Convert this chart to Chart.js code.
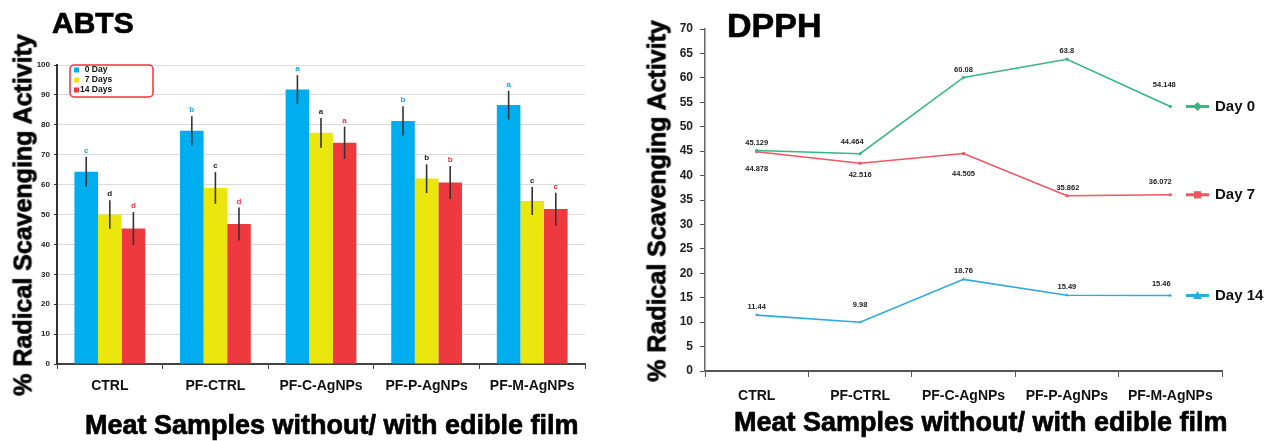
<!DOCTYPE html>
<html>
<head>
<meta charset="utf-8">
<script src="https://cdn.jsdelivr.net/npm/chart.js@4/dist/chart.umd.min.js"></script>
<style>
  body { margin: 0; background: #fff; width: 1276px; height: 441px; position: relative; overflow: hidden; font-family: "Liberation Sans", Arial, sans-serif; }
  .box { position: absolute; top: 0; height: 441px; }
  #abtsBox { left: 0; width: 620px; }
  #dpphBox { left: 640px; width: 636px; }
  .ttl { position: absolute; font-weight: bold; color: #000; white-space: nowrap; line-height: 1; -webkit-text-stroke: 0.7px #000; }
  .ytl { transform: translate(-50%, -50%) rotate(-90deg); }
</style>
</head>
<body>
<div class="box" id="abtsBox"><canvas id="abts"></canvas></div>
<div class="box" id="dpphBox"><canvas id="dpph"></canvas></div>

<div class="ttl" style="left:52px; top:8px; font-size:30px;">ABTS</div>
<div class="ttl" style="left:727px; top:8px; font-size:34px;">DPPH</div>
<div class="ttl ytl" style="left:23px; top:215px; font-size:25px;">% Radical Scavenging Activity</div>
<div class="ttl ytl" style="left:657px; top:201px; font-size:25px;">% Radical Scavenging Activity</div>
<div class="ttl" style="left:85px; top:412px; font-size:27px;">Meat Samples without/ with edible film</div>
<div class="ttl" style="left:734px; top:409px; font-size:27px;">Meat Samples without/ with edible film</div>

<script>
const samples = ['CTRL', 'PF-CTRL', 'PF-C-AgNPs', 'PF-P-AgNPs', 'PF-M-AgNPs'];

// ABTS (bars, mean +/- error)
const abtsDay0  = [64.3, 78.0, 91.8, 81.3, 86.6];
const abtsDay7  = [50.0, 58.9, 77.3, 62.0, 54.5];
const abtsDay14 = [45.3, 46.8, 74.0, 60.7, 51.8];
const abtsErr0  = [5.0, 4.9, 4.8, 4.9, 4.8];
const abtsErr7  = [4.8, 5.3, 5.0, 4.8, 4.7];
const abtsErr14 = [5.5, 5.5, 5.4, 5.5, 5.5];
const abtsLetters0  = ['c', 'b', 'a', 'b', 'a'];
const abtsLetters7  = ['d', 'c', 'a', 'b', 'c'];
const abtsLetters14 = ['d', 'd', 'a', 'b', 'c'];

// DPPH (lines)
const dpphDay0  = [45.129, 44.464, 60.08, 63.8, 54.148];
const dpphDay7  = [44.878, 42.516, 44.505, 35.862, 36.072];
const dpphDay14 = [11.44, 9.98, 18.76, 15.49, 15.46];
// where each value label sits relative to its point (dx, dy in px)
const labelShift0  = [[0, -8], [-8, -12], [0, -8], [0, -8], [-6, -22]];
const labelShift7  = [[0, 17], [0, 12], [0, 20], [1, -8], [-10, -13]];
const labelShift14 = [[0, -8], [0, -17], [0, -8], [0, -8], [-9, -12]];

const FONT = '"Liberation Sans", Arial, sans-serif';
Chart.defaults.font.family = FONT;
Chart.defaults.color = '#111';

const errorBars = {
  id: 'errorBars',
  afterDatasetsDraw(chart) {
    const ctx = chart.ctx, y = chart.scales.y;
    chart.data.datasets.forEach((ds, i) => {
      chart.getDatasetMeta(i).data.forEach((bar, j) => {
        const v = ds.data[j], e = ds.errors[j];
        const top = y.getPixelForValue(v + e), bot = y.getPixelForValue(v - e);
        ctx.save();
        ctx.strokeStyle = '#333';
        ctx.lineWidth = 1.6;
        ctx.beginPath();
        ctx.moveTo(bar.x, top);
        ctx.lineTo(bar.x, bot);
        ctx.stroke();
        ctx.fillStyle = ds.letterColor;
        ctx.font = 'bold 8px ' + FONT;
        ctx.textAlign = 'center';
        ctx.textBaseline = 'bottom';
        ctx.fillText(ds.letters[j], bar.x, top - 2);
        ctx.restore();
      });
    });
  }
};

const boxLegend = {
  id: 'boxLegend',
  afterDraw(chart) {
    const {ctx, chartArea} = chart;
    const x = chartArea.left + 13, y = chartArea.top;
    ctx.save();
    ctx.fillStyle = '#fff';
    ctx.strokeStyle = '#EE3340';
    ctx.lineWidth = 1.5;
    ctx.beginPath();
    ctx.roundRect(x, y, 83, 32, 4);
    ctx.fill();
    ctx.stroke();
    ctx.font = 'bold 8.5px ' + FONT;
    ctx.textBaseline = 'middle';
    chart.data.datasets.forEach((ds, i) => {
      const ly = y + 5 + i * 10;
      ctx.fillStyle = ds.backgroundColor;
      ctx.fillRect(x + 4, ly - 2.5, 5, 5);
      ctx.fillStyle = '#111';
      ctx.fillText(ds.legendText, x + 10, ly);
    });
    ctx.restore();
  }
};

new Chart(document.getElementById('abts'), {
  type: 'bar',
  data: {
    labels: samples,
    datasets: [
      { label: '0 Day', legendText: '  0 Day', data: abtsDay0, errors: abtsErr0, letters: abtsLetters0, letterColor: '#1AA7E0', backgroundColor: '#00AEEF' },
      { label: '7 Days', legendText: '  7 Days', data: abtsDay7, errors: abtsErr7, letters: abtsLetters7, letterColor: '#222', backgroundColor: '#EAE60E' },
      { label: '14 Days', legendText: '14 Days', data: abtsDay14, errors: abtsErr14, letters: abtsLetters14, letterColor: '#EE3340', backgroundColor: '#EE3A3F' }
    ]
  },
  options: {
    responsive: true,
    maintainAspectRatio: false,
    animation: false,
    categoryPercentage: 0.67,
    barPercentage: 1.0,
    layout: { padding: { top: 65, right: 35, left: 0, bottom: 0 } },
    plugins: { legend: { display: false }, tooltip: { enabled: false } },
    scales: {
      x: {
        afterFit: (s) => { s.height = 77; },
        grid: { display: true, drawOnChartArea: false, offset: true, tickLength: 5, tickColor: '#444' },
        border: { color: '#444', width: 2 },
        ticks: { font: { size: 14, weight: 'bold' }, color: '#111', padding: 9, maxRotation: 0, autoSkip: false }
      },
      y: {
        min: 0, max: 100,
        afterFit: (s) => { s.width = 57; },
        grid: { color: '#dcdcdc', lineWidth: 1, tickLength: 3, tickColor: '#333' },
        border: { color: '#333', width: 2 },
        ticks: { stepSize: 10, font: { size: 8, weight: 'bold' }, color: '#222', padding: 4 }
      }
    }
  },
  plugins: [errorBars, boxLegend]
});

function marker(ctx, style, x, y, r) {
  ctx.beginPath();
  if (style === 'rectRot') {
    ctx.moveTo(x, y - r); ctx.lineTo(x + r, y); ctx.lineTo(x, y + r); ctx.lineTo(x - r, y);
  } else if (style === 'triangle') {
    ctx.moveTo(x, y - r); ctx.lineTo(x + r, y + r * 0.8); ctx.lineTo(x - r, y + r * 0.8);
  } else {
    ctx.rect(x - r * 0.8, y - r * 0.8, r * 1.6, r * 1.6);
  }
  ctx.closePath();
  ctx.fill();
}

const valueLabels = {
  id: 'valueLabels',
  afterDatasetsDraw(chart) {
    const ctx = chart.ctx;
    ctx.save();
    ctx.font = 'bold 7.5px ' + FONT;
    ctx.fillStyle = '#222';
    ctx.textAlign = 'center';
    ctx.textBaseline = 'middle';
    chart.data.datasets.forEach((ds, i) => {
      chart.getDatasetMeta(i).data.forEach((pt, j) => {
        const [dx, dy] = ds.shift[j];
        ctx.fillText(String(ds.data[j]), pt.x + dx, pt.y + dy);
      });
    });
    ctx.restore();
  }
};

const sideLegend = {
  id: 'sideLegend',
  afterDraw(chart) {
    const {ctx, chartArea} = chart, y = chart.scales.y;
    ctx.save();
    ctx.font = 'bold 15px ' + FONT;
    ctx.textBaseline = 'middle';
    chart.data.datasets.forEach((ds) => {
      const ly = y.getPixelForValue(ds.data[ds.data.length - 1]);
      const x0 = chartArea.right - 36, x1 = chartArea.right - 13;
      ctx.strokeStyle = ds.borderColor;
      ctx.fillStyle = ds.borderColor;
      ctx.lineWidth = 3;
      ctx.beginPath();
      ctx.moveTo(x0, ly);
      ctx.lineTo(x1, ly);
      ctx.stroke();
      marker(ctx, ds.pointStyle, (x0 + x1) / 2, ly, 4.5);
      ctx.fillStyle = '#111';
      ctx.fillText(ds.label, chartArea.right - 7, ly);
    });
    ctx.restore();
  }
};

new Chart(document.getElementById('dpph'), {
  type: 'line',
  data: {
    labels: samples,
    datasets: [
      { label: 'Day 0', data: dpphDay0, shift: labelShift0, borderColor: '#35B77F', backgroundColor: '#35B77F', pointStyle: 'rectRot' },
      { label: 'Day 7', data: dpphDay7, shift: labelShift7, borderColor: '#F25560', backgroundColor: '#F25560', pointStyle: 'rect' },
      { label: 'Day 14', data: dpphDay14, shift: labelShift14, borderColor: '#2BAAE2', backgroundColor: '#2BAAE2', pointStyle: 'triangle' }
    ]
  },
  options: {
    responsive: true,
    maintainAspectRatio: false,
    animation: false,
    elements: { line: { borderWidth: 1.6, tension: 0 }, point: { radius: 2, borderWidth: 0 } },
    layout: { padding: { top: 29, right: 54, left: 0, bottom: 0 } },
    plugins: { legend: { display: false }, tooltip: { enabled: false } },
    scales: {
      x: {
        offset: true,
        afterFit: (s) => { s.height = 70; },
        grid: { display: true, drawOnChartArea: false, offset: true, tickLength: 6, tickColor: '#555' },
        border: { color: '#555', width: 2 },
        ticks: { font: { size: 14, weight: 'bold' }, color: '#111', padding: 11, maxRotation: 0, autoSkip: false }
      },
      y: {
        min: 0, max: 70,
        afterFit: (s) => { s.width = 65; },
        grid: { display: true, drawOnChartArea: false, tickLength: 5, tickColor: '#555' },
        border: { color: '#666', width: 1.5 },
        ticks: { stepSize: 5, font: { size: 12, weight: 'bold' }, color: '#222', padding: 7 }
      }
    }
  },
  plugins: [valueLabels, sideLegend]
});
</script>
</body>
</html>
